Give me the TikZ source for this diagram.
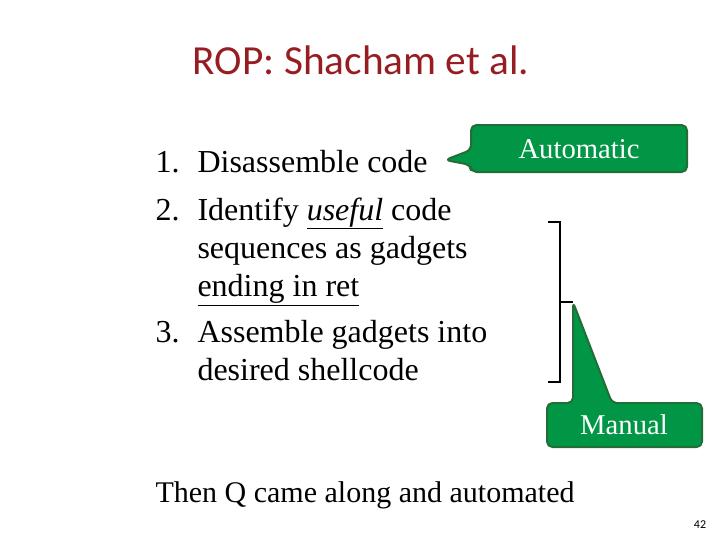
\documentclass[tikz,border=0pt]{standalone}
\usepackage{fontspec}
\setmainfont{Liberation Serif}
\newfontfamily\titlefont{Carlito}
\definecolor{titlered}{RGB}{150,30,35}
\definecolor{calloutgreen}{RGB}{0,150,70}
\definecolor{calloutedge}{RGB}{35,110,55}
\tikzset{every picture/.style={line width=0.75pt}}
\tikzset{
  bodytext/.style={anchor=base west,inner sep=0pt,font=\fontsize{24}{28}\selectfont},
  callouttext/.style={anchor=base,inner sep=0pt,text=white,font=\fontsize{21.5}{25}\selectfont},
  calloutbox/.style={fill=calloutgreen,draw=calloutedge,line width=1.5pt,rounded corners=4pt,line join=round}
}
\begin{document}
\begin{tikzpicture}[x=0.75pt,y=0.75pt,yscale=-1,xscale=1]
	\useasboundingbox (0,0) rectangle (720,540);
	
	% Title
	\node (title) at (361,60) [inner sep=0pt,text=titlered,font=\titlefont\fontsize{31}{36}\selectfont] {ROP: Shacham et al.};
	
	% List items
	\node (n1) at (155,172) [bodytext] {1.};
	\node (l1) at (197,172) [bodytext] {Disassemble code};
	\node (n2) at (155,220) [bodytext] {2.};
	\node (l2) at (197,220) [bodytext] {Identify \underline{\textit{useful}} code};
	\node (l3) at (197,258) [bodytext] {sequences as gadgets};
	\node (l4) at (197,296) [bodytext] {\underline{ending in ret}};
	\node (n3) at (155,342) [bodytext] {3.};
	\node (l5) at (197,342) [bodytext] {Assemble gadgets into};
	\node (l6) at (197,380) [bodytext] {desired shellcode};
	\node (l7) at (155,502) [bodytext,font=\fontsize{22.5}{26}\selectfont] {Then Q came along and automated};
	
	% Callout: Automatic
	\draw [calloutbox] (471,125) -- (687,125) -- (687,172) -- (471,172) -- (471,165) -- (445,160) -- (471,150) -- cycle;
	\node (auto) at (579,158) [callouttext] {Automatic};
	
	% Bracket
	\coordinate (btop) at (548,222);
	\coordinate (bbot) at (548,382);
	\coordinate (bmid) at (573,302);
	\draw [line width=1.5pt] (btop) -- (560,222) -- (560,382) -- (bbot);
	\draw [line width=1.5pt] (560,302) -- (bmid);
	
	% Callout: Manual
	\draw [calloutbox] (bmid) -- (612,403) -- (702,403) -- (702,447) -- (547,447) -- (547,403) -- (573,403) -- cycle;
	\node (manual) at (624,434) [callouttext] {Manual};
	
	% Page number
	\node (page) at (700,525) [inner sep=0pt,font=\titlefont\fontsize{9}{10}\selectfont] {42};
\end{tikzpicture}
\end{document}
